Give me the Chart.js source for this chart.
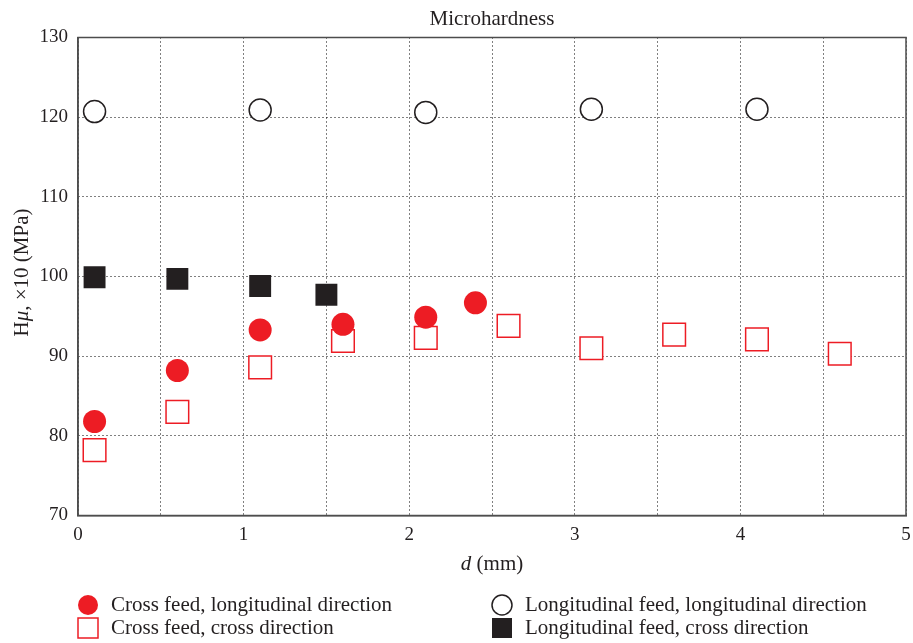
<!DOCTYPE html>
<html>
<head>
<meta charset="utf-8">
<title>Microhardness</title>
<script src="https://cdn.jsdelivr.net/npm/chart.js@4.4.1/dist/chart.umd.min.js"></script>
<style>
  html, body { margin: 0; padding: 0; background: #fff; }
  #wrap { width: 913px; height: 643px; position: relative; }
</style>
</head>
<body>
<div id="wrap"><canvas id="chart"></canvas></div>
<script>
// Values: d (mm) and Hmu x10 (MPa)
const crossLongD = [0.1, 0.6, 1.1, 1.6, 2.1, 2.4];
const crossLongH = [81.8, 88.2, 93.3, 94.0, 94.9, 96.7];

const crossCrossD = [0.1, 0.6, 1.1, 1.6, 2.1, 2.6, 3.1, 3.6, 4.1, 4.6];
const crossCrossH = [78.2, 83.0, 88.6, 91.9, 92.3, 93.8, 91.0, 92.7, 92.1, 90.3];

const longLongD = [0.1, 1.1, 2.1, 3.1, 4.1];
const longLongH = [120.7, 120.9, 120.6, 121.0, 121.0];

const longCrossD = [0.1, 0.6, 1.1, 1.5];
const longCrossH = [99.9, 99.7, 98.8, 97.7];

const seriesNames = [
  'Cross feed, longitudinal direction',
  'Cross feed, cross direction',
  'Longitudinal feed, longitudinal direction',
  'Longitudinal feed, cross direction'
];

const xTicks = [0, 1, 2, 3, 4, 5];
const yTicks = [70, 80, 90, 100, 110, 120, 130];

const RED = '#ed1c24';
const INK = '#231f20';
const SERIF = '"Liberation Serif", "DejaVu Serif", serif';

function toPoints(xs, ys) {
  return xs.map((x, i) => ({ x: x, y: ys[i] }));
}

// title, axis titles with italic symbols, frame and 2-column legend
const decorations = {
  id: 'decorations',
  afterDraw(chart) {
    const ctx = chart.ctx;
    const area = chart.chartArea;
    const cx = (area.left + area.right) / 2;
    const cy = (area.top + area.bottom) / 2;

    ctx.save();
    // frame
    ctx.strokeStyle = '#4d4d4d';
    ctx.lineWidth = 1.5;
    ctx.strokeRect(area.left, area.top, area.right - area.left, area.bottom - area.top);

    ctx.fillStyle = INK;
    ctx.textBaseline = 'alphabetic';

    const normal = '21px ' + SERIF;
    const italic = 'italic 21px ' + SERIF;

    // title
    ctx.font = normal;
    ctx.textAlign = 'center';
    ctx.fillText('Microhardness', cx, 25);

    // mixed-style run of text, centred on x
    function drawRun(parts, x, y) {
      let total = 0;
      parts.forEach(p => { ctx.font = p.font; total += ctx.measureText(p.text).width; });
      let pos = x - total / 2;
      ctx.textAlign = 'left';
      parts.forEach(p => {
        ctx.font = p.font;
        ctx.fillText(p.text, pos, y);
        pos += ctx.measureText(p.text).width;
      });
    }

    drawRun([
      { text: 'd', font: italic },
      { text: ' (mm)', font: normal }
    ], cx, 570);

    ctx.save();
    ctx.translate(28, cy - 4);
    ctx.rotate(-Math.PI / 2);
    drawRun([
      { text: 'H', font: normal },
      { text: 'μ', font: italic },
      { text: ', ×10 (MPa)', font: normal }
    ], 0, 0);
    ctx.restore();

    // legend: two columns, two rows
    const slots = [
      { x: 88, y: 605 },
      { x: 88, y: 628 },
      { x: 502, y: 605 },
      { x: 502, y: 628 }
    ];
    chart.data.datasets.forEach((ds, i) => {
      const s = slots[i];
      ctx.lineWidth = ds.borderWidth;
      ctx.strokeStyle = ds.borderColor;
      ctx.fillStyle = ds.backgroundColor;
      ctx.beginPath();
      if (ds.pointStyle === 'circle') {
        ctx.arc(s.x, s.y, 10, 0, Math.PI * 2);
      } else {
        ctx.rect(s.x - 10, s.y - 10, 20, 20);
      }
      ctx.fill();
      if (ds.borderWidth > 0) ctx.stroke();
      ctx.fillStyle = INK;
      ctx.font = normal;
      ctx.textAlign = 'left';
      ctx.textBaseline = 'middle';
      ctx.fillText(ds.label, s.x + 23, s.y);
    });
    ctx.restore();
  }
};

const chart = new Chart(document.getElementById('chart'), {
  type: 'scatter',
  data: {
    datasets: [
      {
        label: seriesNames[0],
        data: toPoints(crossLongD, crossLongH),
        pointStyle: 'circle',
        pointRadius: 11.5,
        backgroundColor: RED,
        borderColor: RED,
        borderWidth: 0
      },
      {
        label: seriesNames[1],
        data: toPoints(crossCrossD, crossCrossH),
        pointStyle: 'rect',
        pointRadius: 16,
        backgroundColor: '#ffffff',
        borderColor: RED,
        borderWidth: 1.5
      },
      {
        label: seriesNames[2],
        data: toPoints(longLongD, longLongH),
        pointStyle: 'circle',
        pointRadius: 11,
        backgroundColor: '#ffffff',
        borderColor: INK,
        borderWidth: 1.5
      },
      {
        label: seriesNames[3],
        data: toPoints(longCrossD, longCrossH),
        pointStyle: 'rect',
        pointRadius: 15.5,
        backgroundColor: INK,
        borderColor: INK,
        borderWidth: 0
      }
    ]
  },
  options: {
    responsive: true,
    maintainAspectRatio: false,
    animation: false,
    events: [],
    layout: {
      autoPadding: false,
      padding: { top: 37.5, left: 0, right: 7, bottom: 87.5 }
    },
    plugins: {
      legend: { display: false },
      title: { display: false },
      tooltip: { enabled: false }
    },
    scales: {
      x: {
        type: 'linear',
        min: 0,
        max: 5,
        afterFit: s => { s.height = 40; s.paddingRight = 0; s.paddingLeft = 0; },
        ticks: {
          stepSize: 0.5,
          padding: 8,
          color: INK,
          font: { family: SERIF, size: 19 },
          callback: v => xTicks.includes(v) ? String(v) : ''
        },
        grid: { color: '#000', lineWidth: 1, drawTicks: false },
        border: { display: true, color: '#4d4d4d', width: 1.5, dash: [1, 3] }
      },
      y: {
        type: 'linear',
        min: 70,
        max: 130,
        afterFit: s => { s.width = 78; },
        ticks: {
          stepSize: 10,
          padding: 10,
          color: INK,
          font: { family: SERIF, size: 19 },
          callback: v => yTicks.includes(v) ? String(v) : ''
        },
        grid: { color: '#000', lineWidth: 1, drawTicks: false },
        border: { display: true, color: '#4d4d4d', width: 1.5, dash: [1, 3] }
      }
    }
  },
  plugins: [decorations]
});
</script>
</body>
</html>
